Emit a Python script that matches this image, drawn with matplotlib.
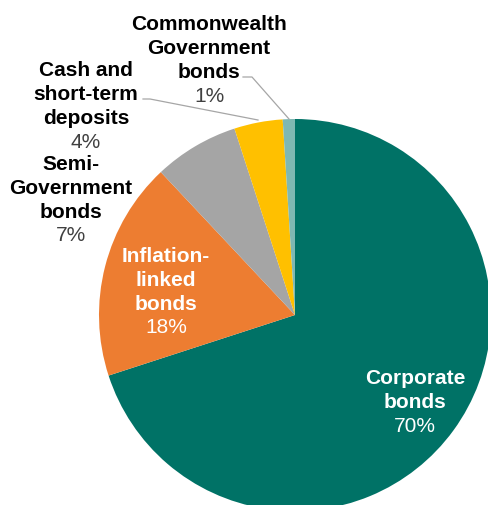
import matplotlib.pyplot as plt

plt.rcParams['font.family'] = ['Liberation Sans', 'DejaVu Sans']

# data
categories = ["Corporate\nbonds", "Inflation-\nlinked\nbonds", "Semi-\nGovernment\nbonds",
              "Cash and\nshort-term\ndeposits", "Commonwealth\nGovernment\nbonds"]
shares = [70, 18, 7, 4, 1]
colors = ["#007266", "#ED7D31", "#A5A5A5", "#FFC000", "#7FB8B2"]

W, H = 489, 506
fig = plt.figure(figsize=(W / 100, H / 100), dpi=100)
ax = fig.add_axes([0, 0, 1, 1])
ax.set_xlim(0, W)
ax.set_ylim(0, H)
ax.set_aspect('equal')
ax.axis('off')

cx, cy, r = 295, H - 316, 196
ax.pie(shares, colors=colors, startangle=90, counterclock=False,
       center=(cx, cy), radius=r, frame=True,
       wedgeprops=dict(linewidth=0))
ax.set_xlim(0, W)
ax.set_ylim(0, H)
ax.axis('off')

# label placement: (x centre, y of first line in px, line step, text colour, pct colour)
label_pos = [
    (415, 379, 24, "white", "white"),
    (166, 257, 23.5, "white", "white"),
    (71, 165, 23.5, "black", "#404040"),
    (86, 70, 24, "black", "#404040"),
    (209, 24, 24, "black", "#404040"),
]

for name, val, (x, y0, step, c1, c2) in zip(categories, shares, label_pos):
    lines = name.split("\n")
    for i, ln in enumerate(lines):
        ax.text(x, H - (y0 + i * step), ln, ha='center', va='center',
                fontsize=15, fontweight='bold', color=c1)
    ax.text(x, H - (y0 + len(lines) * step), f"{val}%", ha='center', va='center',
            fontsize=15, color=c2)

# leader lines
ax.plot([243, 252, 289], [H - 78, H - 78, H - 120], color="#A6A6A6", lw=0.9)
ax.plot([143, 150, 258], [H - 100, H - 100, H - 121], color="#A6A6A6", lw=0.9)

fig.savefig("out.png", dpi=100)
